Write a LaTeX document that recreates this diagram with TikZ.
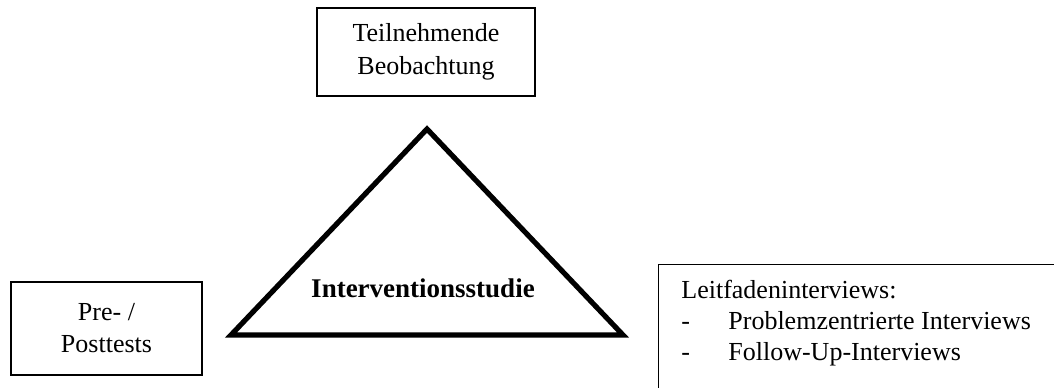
\documentclass[tikz,border=0pt]{standalone}
\usepackage{fontspec}
\setmainfont{Liberation Serif}
\usepackage{tikz}
\usetikzlibrary{positioning}

\tikzset{
  textbox/.style={draw, line width=0.6pt, align=center, inner sep=0pt,
    font=\fontsize{13}{16}\selectfont},
  studyframe/.style={line width=2.6pt, line join=miter}
}

\begin{document}
\begin{tikzpicture}[x=0.5pt, y=-0.5pt]
  \useasboundingbox (0,0) rectangle (1054,387);
  \clip (0,0) rectangle (1054,387);
  % triangle in the middle
  \draw[studyframe] (231,335) -- (623,335) -- (427,129) -- cycle;
  \node[font=\fontsize{13.5}{16}\selectfont\bfseries, anchor=base] (studie) at (423,297) {Interventionsstudie};
  % the three methods
  \node[textbox, minimum width=109pt, minimum height=44pt,
    font=\fontsize{13}{16.5}\selectfont] (beob) at (426,52) {Teilnehmende\\Beobachtung};
  \node[textbox, minimum width=95.5pt, minimum height=46.5pt] (tests) at (106.5,328.5) {Pre- /\\Posttests};
  \node[textbox, anchor=north west, minimum width=220pt, minimum height=80pt] (leitbox) at (658,264) {};
  \node[anchor=north west, align=left, inner sep=0pt, font=\fontsize{13}{15.5}\selectfont] (leit) at (681,280)
    {Leitfadeninterviews:\\
     \makebox[23.5pt][l]{-}Problemzentrierte Interviews\\
     \makebox[23.5pt][l]{-}Follow-Up-Interviews};
\end{tikzpicture}
\end{document}
